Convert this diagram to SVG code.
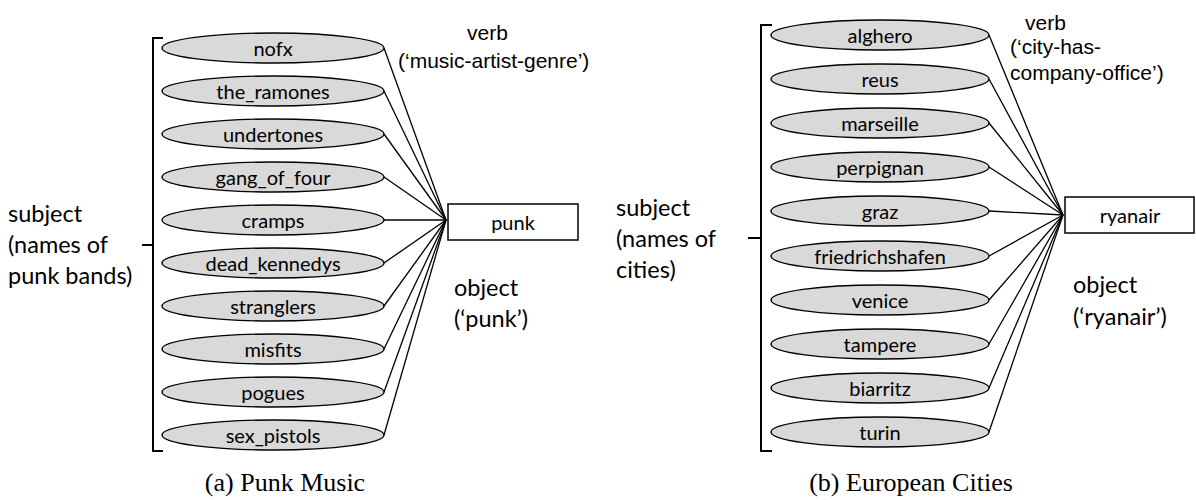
<svg xmlns="http://www.w3.org/2000/svg" width="1196" height="500" viewBox="0 0 1196 500">
<style>
.bg{fill:#ffffff}
.ell{fill:#d9d9d9;stroke:#000;stroke-width:1.4}
.lbl{font-family:Lato,"Liberation Sans",sans-serif;font-size:20px;fill:#000;text-anchor:middle;dominant-baseline:central}
.side{font-family:Lato,"Liberation Sans",sans-serif;font-size:23.5px;fill:#000}
.verb{font-family:"Liberation Sans",Arial,sans-serif;font-size:21px;fill:#000}
.cap{font-family:"Liberation Serif","Times New Roman",serif;font-size:26px;fill:#000;text-anchor:middle}
.box{fill:#fff;stroke:#000;stroke-width:1.5}
.conn line{stroke:#000;stroke-width:1.3}
.br{fill:none;stroke:#000;stroke-width:2}
</style>
<rect class="bg" x="0" y="0" width="1196" height="500"/>

<g id="connectors-a" class="conn">
<line x1="384" y1="48" x2="446" y2="220"/>
<line x1="384" y1="91" x2="446" y2="220"/>
<line x1="384" y1="134" x2="446" y2="220"/>
<line x1="384" y1="177" x2="446" y2="220"/>
<line x1="384" y1="220" x2="446" y2="220"/>
<line x1="384" y1="263" x2="446" y2="220"/>
<line x1="384" y1="306" x2="446" y2="220"/>
<line x1="384" y1="349" x2="446" y2="220"/>
<line x1="384" y1="392" x2="446" y2="220"/>
<line x1="384" y1="435" x2="446" y2="220"/>
</g>
<g id="connectors-b" class="conn">
<line x1="989" y1="35" x2="1063" y2="215"/>
<line x1="989" y1="79" x2="1063" y2="215"/>
<line x1="989" y1="123" x2="1063" y2="215"/>
<line x1="989" y1="167" x2="1063" y2="215"/>
<line x1="989" y1="211" x2="1063" y2="215"/>
<line x1="989" y1="256" x2="1063" y2="215"/>
<line x1="989" y1="300" x2="1063" y2="215"/>
<line x1="989" y1="344" x2="1063" y2="215"/>
<line x1="989" y1="388" x2="1063" y2="215"/>
<line x1="989" y1="432" x2="1063" y2="215"/>
</g>

<!-- Panel (a) -->
<g id="bracket-a"><path class="br" d="M163,38 H153 V451 H163 M153,245 H142"/></g>
<g id="subject-a">
<text class="side" x="8" y="222">subject</text>
<text class="side" x="8" y="253">(names of</text>
<text class="side" x="8" y="284">punk bands)</text>
</g>
<g id="n-nofx"><ellipse class="ell" cx="273" cy="48" rx="111" ry="15"/><text class="lbl" x="273" y="48">nofx</text></g>
<g id="n-the_ramones"><ellipse class="ell" cx="273" cy="91" rx="111" ry="15"/><text class="lbl" x="273" y="91">the_ramones</text></g>
<g id="n-undertones"><ellipse class="ell" cx="273" cy="134" rx="111" ry="15"/><text class="lbl" x="273" y="134">undertones</text></g>
<g id="n-gang_of_four"><ellipse class="ell" cx="273" cy="177" rx="111" ry="15"/><text class="lbl" x="273" y="177">gang_of_four</text></g>
<g id="n-cramps"><ellipse class="ell" cx="273" cy="220" rx="111" ry="15"/><text class="lbl" x="273" y="220">cramps</text></g>
<g id="n-dead_kennedys"><ellipse class="ell" cx="273" cy="263" rx="111" ry="15"/><text class="lbl" x="273" y="263">dead_kennedys</text></g>
<g id="n-stranglers"><ellipse class="ell" cx="273" cy="306" rx="111" ry="15"/><text class="lbl" x="273" y="306">stranglers</text></g>
<g id="n-misfits"><ellipse class="ell" cx="273" cy="349" rx="111" ry="15"/><text class="lbl" x="273" y="349">misfits</text></g>
<g id="n-pogues"><ellipse class="ell" cx="273" cy="392" rx="111" ry="15"/><text class="lbl" x="273" y="392">pogues</text></g>
<g id="n-sex_pistols"><ellipse class="ell" cx="273" cy="435" rx="111" ry="15"/><text class="lbl" x="273" y="435">sex_pistols</text></g>
<g id="n-punk"><rect class="box" x="448" y="204" width="130" height="36"/><text class="lbl" x="513" y="222">punk</text></g>
<g id="verb-a">
<text class="verb" x="467" y="40">verb</text>
<text class="verb" x="398" y="68">(‘music-artist-genre’)</text>
</g>
<g id="object-a">
<text class="side" x="454" y="296">object</text>
<text class="side" x="454" y="327">(‘punk’)</text>
</g>
<text class="cap" x="285" y="491">(a) Punk Music</text>

<!-- Panel (b) -->
<g id="bracket-b"><path class="br" d="M772,25 H761 V451 H772 M761,238 H748"/></g>
<g id="subject-b">
<text class="side" x="616" y="216">subject</text>
<text class="side" x="616" y="247">(names of</text>
<text class="side" x="616" y="278">cities)</text>
</g>
<g id="n-alghero"><ellipse class="ell" cx="880" cy="35" rx="109" ry="15"/><text class="lbl" x="880" y="35">alghero</text></g>
<g id="n-reus"><ellipse class="ell" cx="880" cy="79" rx="109" ry="15"/><text class="lbl" x="880" y="79">reus</text></g>
<g id="n-marseille"><ellipse class="ell" cx="880" cy="123" rx="109" ry="15"/><text class="lbl" x="880" y="123">marseille</text></g>
<g id="n-perpignan"><ellipse class="ell" cx="880" cy="167" rx="109" ry="15"/><text class="lbl" x="880" y="167">perpignan</text></g>
<g id="n-graz"><ellipse class="ell" cx="880" cy="211" rx="109" ry="15"/><text class="lbl" x="880" y="211">graz</text></g>
<g id="n-friedrichshafen"><ellipse class="ell" cx="880" cy="256" rx="109" ry="15"/><text class="lbl" x="880" y="256">friedrichshafen</text></g>
<g id="n-venice"><ellipse class="ell" cx="880" cy="300" rx="109" ry="15"/><text class="lbl" x="880" y="300">venice</text></g>
<g id="n-tampere"><ellipse class="ell" cx="880" cy="344" rx="109" ry="15"/><text class="lbl" x="880" y="344">tampere</text></g>
<g id="n-biarritz"><ellipse class="ell" cx="880" cy="388" rx="109" ry="15"/><text class="lbl" x="880" y="388">biarritz</text></g>
<g id="n-turin"><ellipse class="ell" cx="880" cy="432" rx="109" ry="15"/><text class="lbl" x="880" y="432">turin</text></g>
<g id="n-ryanair"><rect class="box" x="1065" y="197" width="129" height="36"/><text class="lbl" x="1130" y="215">ryanair</text></g>
<g id="verb-b">
<text class="verb" x="1025" y="30">verb</text>
<text class="verb" x="1010" y="54">(‘city-has-</text>
<text class="verb" x="1010" y="80">company-office’)</text>
</g>
<g id="object-b">
<text class="side" x="1073" y="293">object</text>
<text class="side" x="1073" y="325">(‘ryanair’)</text>
</g>
<text class="cap" x="911" y="491">(b) European Cities</text>
</svg>
